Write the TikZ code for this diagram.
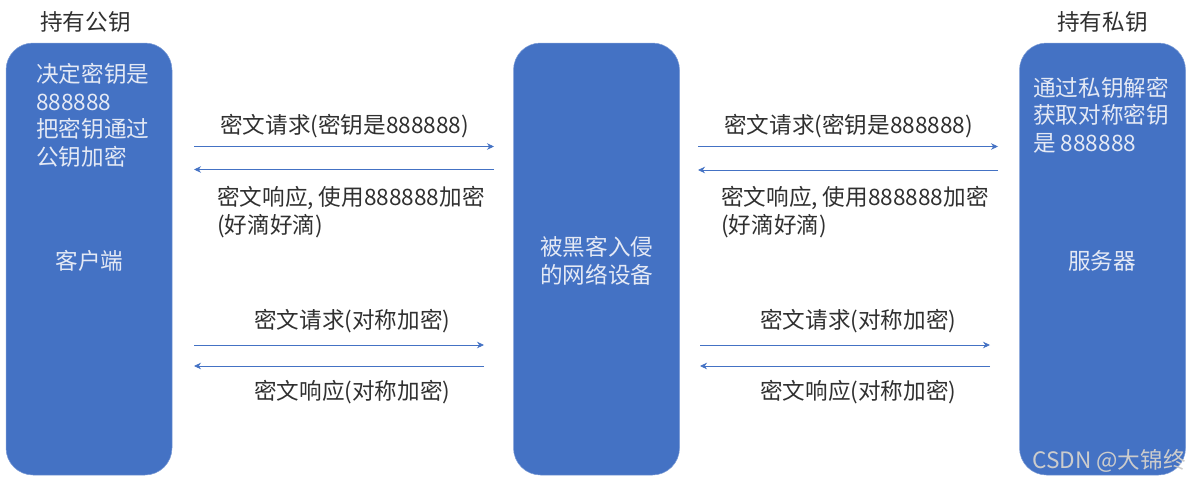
\documentclass[tikz,border=0pt]{standalone}
\usepackage{fontspec}
\setmainfont{Noto Sans CJK SC}
\usepackage{tikz}
\usetikzlibrary{arrows.meta}

\definecolor{boxblue}{HTML}{4472C4}
\definecolor{boxtext}{HTML}{E4E9F5}
\definecolor{labeltext}{HTML}{303030}

\begin{document}
\begin{tikzpicture}[x=1pt,y=-1pt,
	hostbox/.style={fill=boxblue,draw=boxblue!70!white,line width=0.5pt,rounded corners=27pt,
		minimum width=166pt,minimum height=432pt,inner sep=0pt},
	hosttext/.style={text=boxtext,font=\fontsize{22.6pt}{27.4pt}\selectfont,inner sep=0pt,align=left},
	msgtext/.style={text=labeltext,font=\fontsize{22.6pt}{28pt}\selectfont,inner sep=0pt,align=left,anchor=west},
	msgline/.style={draw=boxblue,line width=0.7pt,-{Stealth[length=7pt,width=6.5pt]}}]
	\useasboundingbox (0,0) rectangle (1188,482);

	%% The three hosts
	\node[hostbox] (client) at (89,259) {};
	\node[hostbox] (hacker) at (596.5,259) {};
	\node[hostbox] (server) at (1102.5,259) {};

	%% End points of the arrows (y of each row, x of each gap)
	\coordinate (A1) at (194,146.5);
	\coordinate (A2) at (494,146.5);
	\coordinate (A3) at (194,169.5);
	\coordinate (A4) at (494,169.5);
	\coordinate (A5) at (194,345);
	\coordinate (A6) at (484,345);
	\coordinate (A7) at (194,366);
	\coordinate (A8) at (484,366);

	\coordinate (B1) at (698,146.5);
	\coordinate (B2) at (998,146.5);
	\coordinate (B3) at (698,170);
	\coordinate (B4) at (998,170);
	\coordinate (B5) at (700,345);
	\coordinate (B6) at (990,345);
	\coordinate (B7) at (700,366);
	\coordinate (B8) at (990,366);

	%% Arrows, requests go right and responses go left
	\foreach \s in {A,B}
	{
	  \draw[msgline] (\s1) -- (\s2);
	  \draw[msgline] (\s4) -- (\s3);
	  \draw[msgline] (\s5) -- (\s6);
	  \draw[msgline] (\s8) -- (\s7);
	}

	%% Captions above the outer hosts
	\node[msgtext] (pubkey) at (40,22) {持有公钥};
	\node[msgtext] (privkey) at (1057,22) {持有私钥};

	%% Text in the hosts
	\node[hosttext,anchor=north west] (clientnote) at (36,63.5) {决定密钥是\\888888\\把密钥通过\\公钥加密};
	\node[hosttext] (clientname) at (89.5,260.5) {客户端};
	\node[hosttext,anchor=west] (hackername) at (540,261) {被黑客入侵\\的网络设备};
	\node[hosttext,anchor=north west] (servernote) at (1033,77) {通过私钥解密\\获取对称密钥\\是 888888};
	\node[hosttext] (servername) at (1102,260.5) {服务器};

	%% Labels of the arrows
	\node[msgtext] (reqkeyA) at (220,126) {密文请求(密钥是888888)};
	\node[msgtext] (respkeyA) at (217,212) {密文响应, 使用888888加密\\(好滴好滴)};
	\node[msgtext] (reqsymA) at (254,321) {密文请求(对称加密)};
	\node[msgtext] (respsymA) at (254,392) {密文响应(对称加密)};

	\node[msgtext] (reqkeyB) at (724,126) {密文请求(密钥是888888)};
	\node[msgtext] (respkeyB) at (721,212) {密文响应, 使用888888加密\\(好滴好滴)};
	\node[msgtext] (reqsymB) at (760,321) {密文请求(对称加密)};
	\node[msgtext] (respsymB) at (760,392) {密文响应(对称加密)};

	% Watermark
	\node[hosttext,anchor=west,text=white!80!black] (mark) at (1032,461) {CSDN @大锦终};
\end{tikzpicture}
\end{document}
